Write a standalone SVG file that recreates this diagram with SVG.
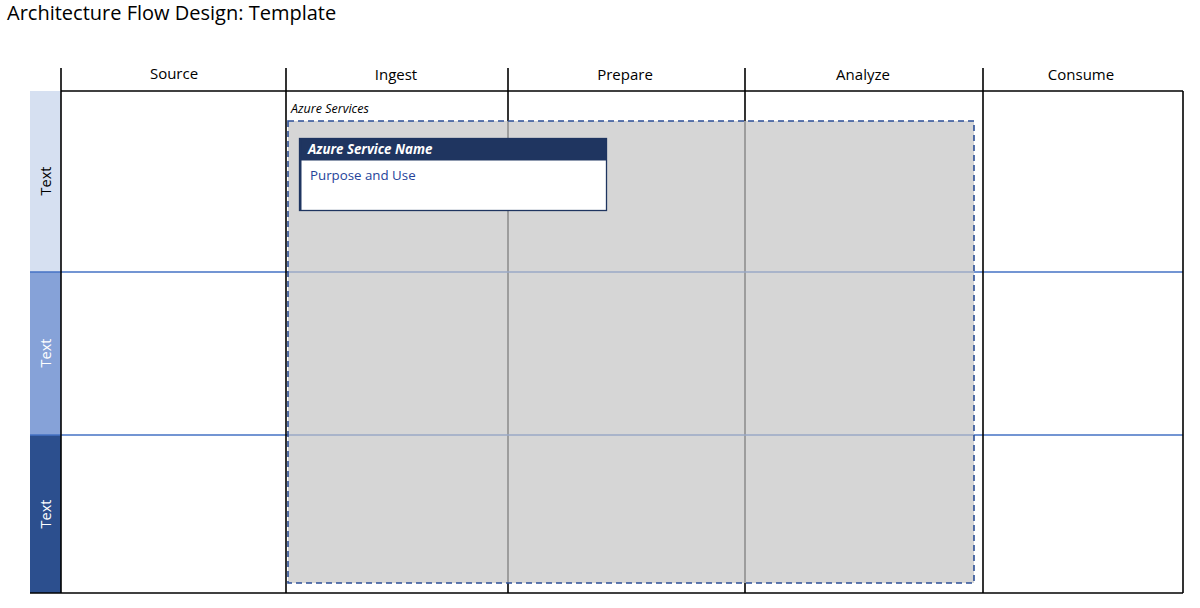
<svg xmlns="http://www.w3.org/2000/svg" width="1200" height="608" viewBox="0 0 1200 608">
<style>
.hdr{font-family:"Open Sans","Liberation Sans",sans-serif;font-size:15px;fill:#000;text-anchor:middle}
.lbl{font-family:"Open Sans","Liberation Sans",sans-serif;font-size:14.5px;text-anchor:middle}
.blk{stroke:#000;stroke-width:1.6;fill:none}
.rowsep{stroke:#4472c4;stroke-width:1.5}
.inner{stroke:#8a8a8a;stroke-width:1.5}
.innerh{stroke:#9aa9c6;stroke-width:1.5}
</style>
<rect width="1200" height="608" fill="#fff"/>
<text x="7" y="20" font-family="Open Sans, Liberation Sans, sans-serif" font-size="20" fill="#000">Architecture Flow Design: Template</text>

<g id="row-labels">
<rect x="30" y="91" width="31" height="181" fill="#d6e0f1"/>
<rect x="30" y="272" width="31" height="163" fill="#86a2d8"/>
<rect x="30" y="435" width="31" height="158" fill="#2c4f8e"/>
<text class="lbl" transform="translate(51,181) rotate(-90)" fill="#000">Text</text>
<text class="lbl" transform="translate(51,353) rotate(-90)" fill="#fff">Text</text>
<text class="lbl" transform="translate(51,514) rotate(-90)" fill="#fff">Text</text>
</g>

<g id="headers">
<text class="hdr" x="174" y="79">Source</text>
<text class="hdr" x="396" y="80">Ingest</text>
<text class="hdr" x="625" y="80">Prepare</text>
<text class="hdr" x="863" y="80">Analyze</text>
<text class="hdr" x="1081" y="80">Consume</text>
</g>

<g id="grid">
<line class="rowsep" x1="30" y1="272" x2="1183" y2="272"/>
<line class="rowsep" x1="30" y1="435" x2="1183" y2="435"/>
<line class="blk" x1="61" y1="91" x2="1183" y2="91"/>
<line class="blk" x1="30" y1="593" x2="1183" y2="593"/>
<line class="blk" x1="61" y1="68" x2="61" y2="593"/>
<line class="blk" x1="286" y1="68" x2="286" y2="593"/>
<line class="blk" x1="508" y1="68" x2="508" y2="593"/>
<line class="blk" x1="745" y1="68" x2="745" y2="593"/>
<line class="blk" x1="983" y1="68" x2="983" y2="593"/>
<line class="blk" x1="1183" y1="91" x2="1183" y2="593"/>
</g>

<g id="azure-services">
<rect x="288" y="121" width="686" height="462" fill="#d6d6d6"/>
<line class="inner" x1="508" y1="121" x2="508" y2="583"/>
<line class="inner" x1="745" y1="121" x2="745" y2="583"/>
<line class="innerh" x1="288" y1="272" x2="974" y2="272"/>
<line class="innerh" x1="288" y1="435" x2="974" y2="435"/>
<rect x="288" y="121" width="686" height="462" fill="none" stroke="#2c4f96" stroke-width="1.6" stroke-dasharray="6 4"/>
<text x="291" y="113" font-family="Open Sans, Liberation Sans, sans-serif" font-size="12.5" font-style="italic" fill="#000">Azure Services</text>
</g>

<g id="service-card">
<rect x="299.5" y="138.5" width="307" height="72" fill="#fff" stroke="#1f3560" stroke-width="1.3"/>
<rect x="299.5" y="138.5" width="307" height="22" fill="#1f3560"/>
<line x1="300.5" y1="139" x2="300.5" y2="211" stroke="#1f3560" stroke-width="2"/>
<text x="308" y="154" font-family="Open Sans, Liberation Sans, sans-serif" font-size="13.3" font-weight="bold" font-style="italic" fill="#fff">Azure Service Name</text>
<text x="310" y="180" font-family="Open Sans, Liberation Sans, sans-serif" font-size="13.3" fill="#26449a">Purpose and Use</text>
</g>
</svg>
